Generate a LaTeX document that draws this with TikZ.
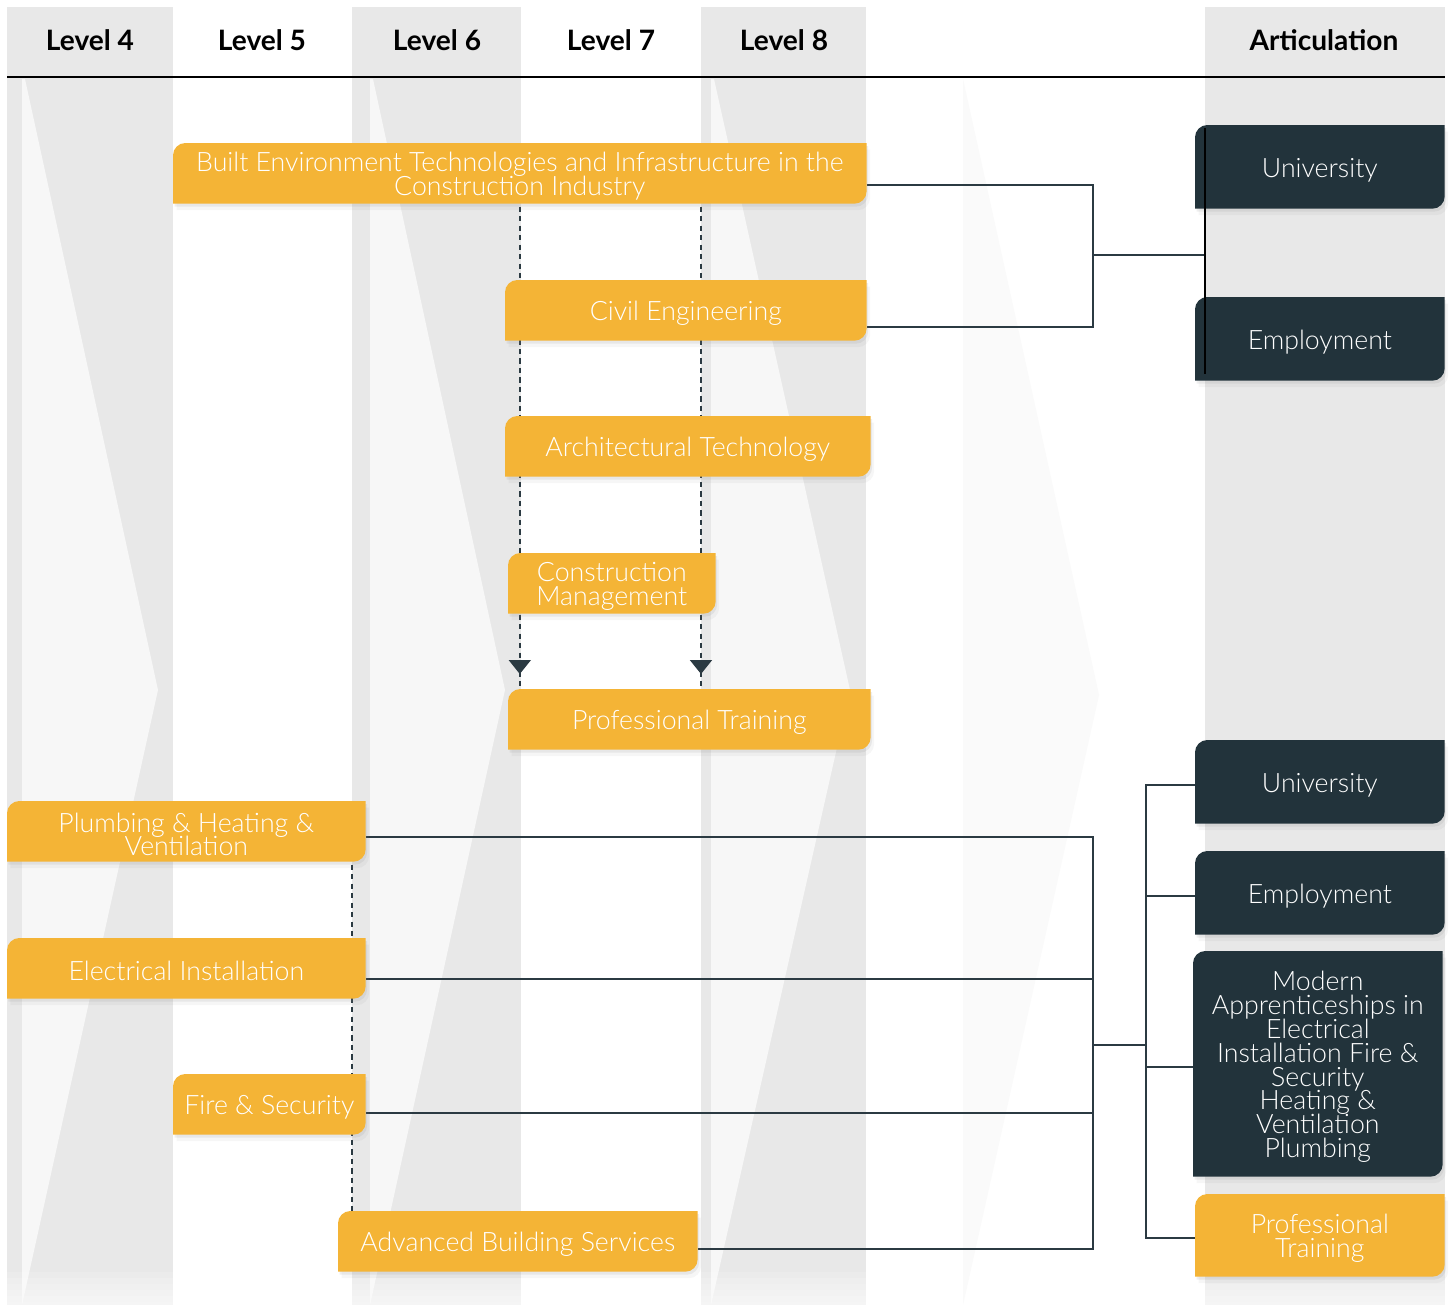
\documentclass[tikz,border=0pt]{standalone}
\usepackage{fontspec}
\setmainfont{Lato}
\newfontfamily\lightfont{Lato Light}
\usetikzlibrary{positioning,calc,arrows.meta,decorations.markings,shadows}

\definecolor{boxyellow}{HTML}{F4B436}
\definecolor{boxdark}{HTML}{22333B}
\definecolor{colgray}{HTML}{E8E8E8}
\definecolor{wedgegray}{HTML}{F7F7F7}
\definecolor{linkgray}{HTML}{2B3A42}

\pgfdeclarelayer{bg}
\pgfdeclarelayer{links}
\pgfdeclarelayer{boxes}
\pgfsetlayers{bg,links,boxes,main}

% tight lines in the boxes
\DeclareRobustCommand{\stagefont}{\lightfont\fontsize{15.2}{13.6}\selectfont
  \setlength{\lineskiplimit}{-20pt}\setlength{\lineskip}{0pt}}

% fill behind a node: rounded top left and bottom right corners, set a little above the text
\newcommand{\levelbox}[2]{%
  \fill[#2, drop shadow={shadow xshift=0.3mm, shadow yshift=-0.6mm, opacity=0.12},
            drop shadow={shadow xshift=0.7mm, shadow yshift=-1.3mm, opacity=0.07}]
    ([yshift=1.7pt]#1.south west) -- ([yshift=-5.3pt]#1.north west) arc[start angle=180, end angle=90, radius=7pt]
    -- ([yshift=1.7pt]#1.north east) -- ([yshift=8.7pt]#1.south east) arc[start angle=0, end angle=-90, radius=7pt]
    -- cycle;}

\tikzset{
  stage/.style={font=\stagefont, text=white, align=center, inner sep=0pt,
    anchor=north west, minimum height=1.2cm},
  outcome/.style={stage, minimum width=4.98cm, minimum height=1.66cm},
  levelhead/.style={font=\bfseries\fontsize{16}{18}\selectfont},
  link/.style={draw=linkgray, line width=1.1pt},
  pathway/.style={draw=linkgray, line width=1.1pt, dash pattern=on 3pt off 2.4pt},
  marked/.style={postaction={decorate, decoration={markings,
    mark=at position -0.36cm with {\arrow[linkgray]{Triangle[width=0.44cm,length=0.28cm]}}}}},
}

\begin{document}
\begin{tikzpicture}[x=0.02cm, y=-0.02cm]
    \useasboundingbox (0,0) rectangle (1453,1305);

    % Column edges
    \coordinate (c6) at (352,0);
    \coordinate (c8) at (701,0);
    \coordinate (c9) at (1205,0);

    % Headers
    \node[levelhead] (l4) at (90,40) {Level 4};
    \node[levelhead] (l5) at (262,40) {Level 5};
    \node[levelhead] (l6) at (437,40) {Level 6};
    \node[levelhead] (l7) at (611,40) {Level 7};
    \node[levelhead] (l8) at (784,40) {Level 8};
    \node[levelhead] (art) at (1324,40) {Articulation};

    % Construction pathway
    \node[stage, minimum width=13.86cm] (bet) at (173,146) {Built Environment Technologies and Infrastructure in the\\Construction Industry};
    \node[stage, minimum width=7.22cm] (civ) at (505,283) {Civil Engineering};
    \node[stage, minimum width=7.3cm] (arch) at (505,419) {Architectural Technology};
    \node[stage, minimum width=4.14cm] (cm) at (508,556) {Construction\\Management};
    \node[stage, minimum width=7.24cm] (pt) at (508,692) {Professional Training};

    % Building services pathway
    \node[stage, minimum width=7.16cm] (plumb) at (7,804) {Plumbing \& Heating \&\\Ventilation};
    \node[stage, minimum width=7.16cm] (elec) at (7,941) {Electrical Installation};
    \node[stage, minimum width=3.84cm] (fire) at (173,1077) {Fire \& Security};
    \node[stage, minimum width=7.18cm] (abs) at (338,1214) {Advanced Building Services};

    % Articulation
    \node[outcome] (uni1) at (1195,128) {University};
    \node[outcome] (emp1) at (1195,300) {Employment};
    \node[outcome] (uni2) at (1195,743) {University};
    \node[outcome] (emp2) at (1195,854) {Employment};
    \node[outcome, minimum height=4.5cm] (ma) at (1193,954) {Modern\\Apprenticeships in\\Electrical\\Installation Fire \&\\Security\\Heating \&\\Ventilation\\Plumbing};
    \node[outcome, minimum height=1.64cm] (pt2) at (1195,1197) {Professional\\Training};

    \coordinate (j1) at (1093,255);
    \coordinate (j2) at (1093,1045);
    \coordinate (j3) at (1146,1045);

    % Background columns
    \begin{pgfonlayer}{bg}
        \fill[white] (0,0) rectangle (1453,1305);
        \fill[colgray] (7,7) rectangle (173,1305);
        \fill[colgray] (352,7) rectangle (521,1305);
        \fill[colgray] (701,7) rectangle (866,1305);
        \fill[colgray] (1205,7) rectangle (1445,1305);
        \fill[wedgegray] (22,79) -- (25,79) -- (158,690) -- (22,1305) -- cycle;
        \fill[wedgegray] (370,79) -- (373,79) -- (505,690) -- (370,1305) -- cycle;
        \fill[wedgegray] (711,79) -- (714,79) -- (850,690) -- (711,1305) -- cycle;
        \fill[wedgegray!60] (963,79) -- (1099,695) -- (963,1305) -- cycle;
        \foreach \i in {0,...,5} {\fill[white, opacity=0.16] (0,1272+\i*6) rectangle (1453,1305);}
        \draw[black, line width=0.6pt] (7,77) -- (1445,77);
    \end{pgfonlayer}

    % Connectors
    \begin{pgfonlayer}{links}
        \draw[pathway, marked] (bet.south) -- (bet.south |- pt.north);
        \draw[pathway, marked] (bet.south -| c8) -- (pt.north -| c8);
        \draw[pathway] (plumb.south -| c6) -- (abs.north -| c6);

        \draw[link] ($(bet.east)+(0,9)$) -| (j1) |- ($(civ.east)+(0,14)$);
        \draw[link] (j1) -- (j1 -| c9);

        \draw[link] ($(plumb.east)+(0,3)$) -| (j2);
        \draw[link] ($(elec.east)+(0,8)$) -| (j2);
        \draw[link] ($(fire.east)+(0,6)$) -| (j2);
        \draw[link] ($(abs.east)+(0,5)$) -| (j2);
        \draw[link] (j2) -- (j3);
        \draw[link] (j3) |- (uni2.west);
        \draw[link] (j3) |- (emp2.west);
        \draw[link] (j3) |- (ma.west);
        \draw[link] (j3) |- (pt2.west);
    \end{pgfonlayer}

    % Box fills
    \begin{pgfonlayer}{boxes}
        \foreach \n in {bet,civ,arch,cm,pt,plumb,elec,fire,abs,pt2} {\levelbox{\n}{boxyellow}}
        \foreach \n in {uni1,emp1,uni2,emp2,ma} {\levelbox{\n}{boxdark}}
    \end{pgfonlayer}

    \draw[black, line width=1.2pt] (uni1.north -| c9) -- ($(emp1.south -| c9)+(0,-10)$);
\end{tikzpicture}
\end{document}
